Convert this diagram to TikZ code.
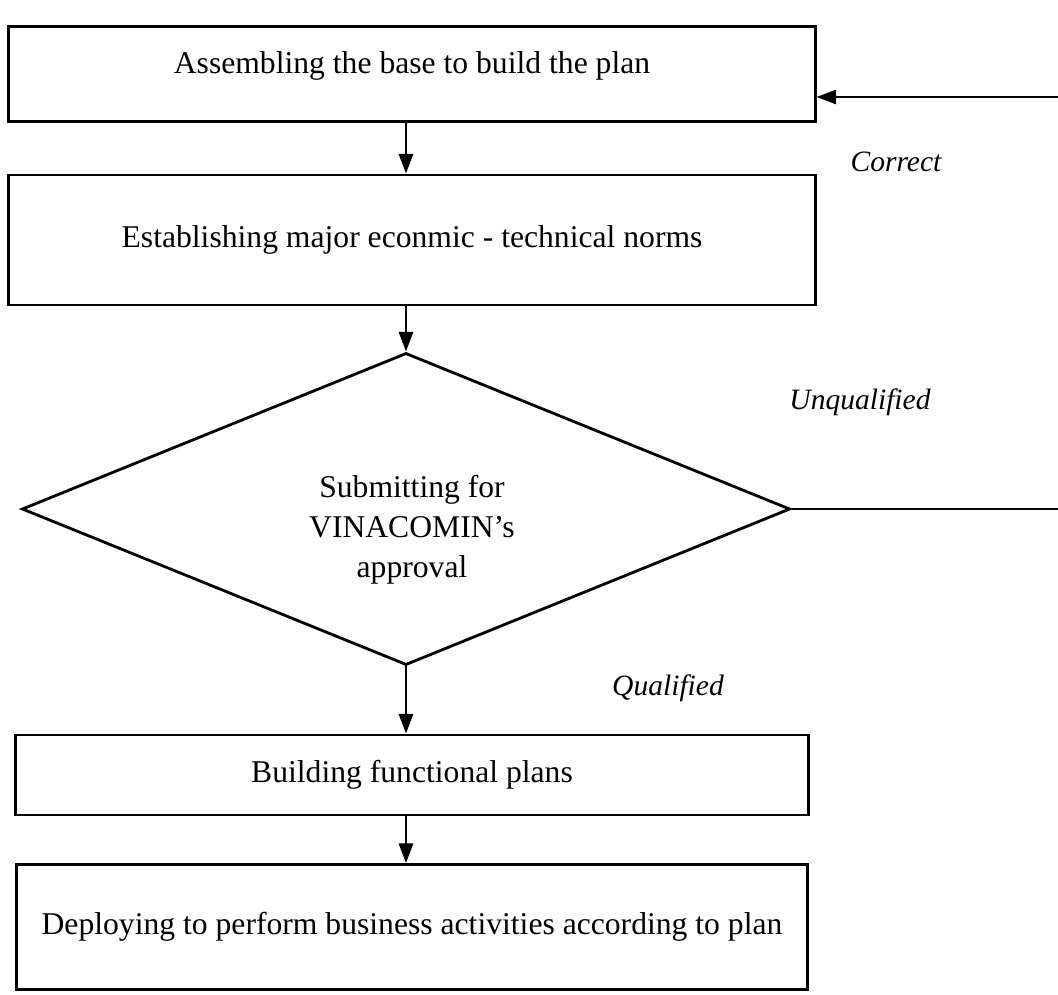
\documentclass[tikz,border=0pt]{standalone}
\usepackage{fontspec}
\setmainfont{Liberation Serif}
\usetikzlibrary{shapes.geometric,arrows.meta}
\begin{document}
\begin{tikzpicture}[x=0.025cm,y=-0.025cm,
  every node/.style={font=\fontsize{22.5}{28.5}\selectfont},
  stepbox/.style={draw,line width=2pt,inner sep=0pt,minimum width=#1},
  decision/.style={draw,diamond,line width=2pt,inner sep=0pt,minimum width=19.2cm,minimum height=7.8cm},
  flow/.style={line width=2pt,-{Triangle[length=14pt,width=10pt]}},
  lbl/.style={font=\fontsize{21}{25}\selectfont\itshape}]
\clip (0,0) rectangle (1058,994);
\fill[white] (0,0) rectangle (1058,994);
\node[stepbox=20.15cm,minimum height=2.375cm] (b1) at (412,74) {};
\node (t1) at (412,66) {Assembling the base to build the plan};
\node[stepbox=20.15cm,minimum height=3.25cm] (b2) at (412,240) {Establishing major econmic - technical norms};
\node[decision] (d) at (406,509) {};
\node[align=center] (dt) at (412,530) {Submitting for\\VINACOMIN's\\approval};
\node[stepbox=19.825cm,minimum height=2cm] (b3) at (412,775) {Building functional plans};
\node[stepbox=19.775cm,minimum height=3.125cm] (b4) at (412,927) {Deploying to perform business activities according to plan};
\coordinate (r1) at (1080,520);
\coordinate (r2) at (1080,97);
\node[lbl] (lc) at (896,162) {Correct};
\node[lbl] (lu) at (860,402) {Unqualified};
\node[lbl] (lq) at (668,688) {Qualified};
\draw[flow] (b1.south -| d.north) -- (b2.north -| d.north);
\draw[flow] (b2.south -| d.north) -- (d.north);
\draw[flow] (d.south) -- (b3.north -| d.south);
\draw[flow] (b3.south -| d.south) -- (b4.north -| d.south);
\draw[flow] (d.east) -- (d.east -| r1) -- (r2) -- (r2 -| b1.east);
\end{tikzpicture}
\end{document}
